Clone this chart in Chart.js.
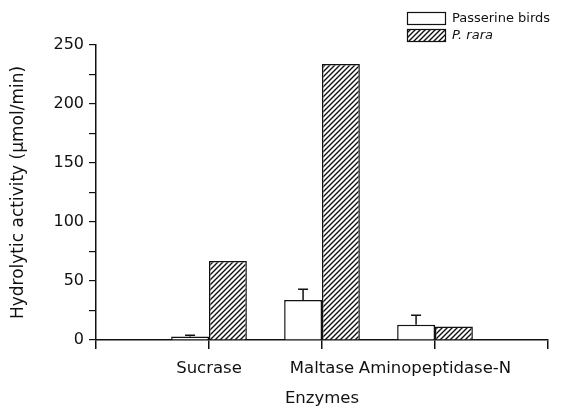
<!DOCTYPE html>
<html>
<head>
<meta charset="utf-8">
<script src="https://cdn.jsdelivr.net/npm/chart.js@4.4.1/dist/chart.umd.min.js"></script>
<style>
  html, body { margin: 0; padding: 0; background: #fff; }
  #wrap { width: 562px; height: 410px; position: relative; }
</style>
</head>
<body>
<div id="wrap"><canvas id="chart" width="562" height="410"></canvas></div>
<script>
// categories (empty slots at both ends keep the axis span of the original)
const enzymes = ['', 'Sucrase', 'Maltase', 'Aminopeptidase-N', ''];
const passerine = [null, 3, 34, 13, null];
const passerineErr = [null, 1, 9, 8, null];
const pRara = [null, 67, 234, 11.5, null];
const yTicks = [0, 50, 100, 150, 200, 250];

const font = 'DejaVu Sans, Liberation Sans, Arial, sans-serif';

// diagonal hatch for P. rara
function hatch() {
  const c = document.createElement('canvas');
  c.width = 5; c.height = 5;
  const g = c.getContext('2d');
  g.fillStyle = '#fff';
  g.fillRect(0, 0, 5, 5);
  g.strokeStyle = '#111';
  g.lineWidth = 1.4;
  g.beginPath();
  g.moveTo(-1, 6); g.lineTo(6, -1);
  g.moveTo(-1, 1); g.lineTo(1, -1);
  g.moveTo(4, 6); g.lineTo(6, 4);
  g.stroke();
  return g.createPattern(c, 'repeat');
}
const hatchFill = hatch();

// error bars on passerine birds
const errorBars = {
  id: 'errorBars',
  afterDatasetsDraw(chart) {
    const ctx = chart.ctx;
    const meta = chart.getDatasetMeta(0);
    const y = chart.scales.y;
    ctx.save();
    ctx.strokeStyle = '#111';
    ctx.lineWidth = 1.5;
    meta.data.forEach((bar, i) => {
      if (passerine[i] == null || !passerineErr[i]) return;
      const top = y.getPixelForValue(passerine[i] + passerineErr[i]);
      ctx.beginPath();
      ctx.moveTo(bar.x, bar.y);
      ctx.lineTo(bar.x, top);
      ctx.moveTo(bar.x - 5, top);
      ctx.lineTo(bar.x + 5, top);
      ctx.stroke();
    });
    ctx.restore();
  }
};

// legend in the top right corner
const boxLegend = {
  id: 'boxLegend',
  afterDraw(chart) {
    const ctx = chart.ctx;
    const items = chart.data.datasets;
    ctx.save();
    items.forEach((ds, i) => {
      const x = 407, y = 12 + i * 17;
      ctx.fillStyle = ds.backgroundColor;
      ctx.fillRect(x, y, 38, 12);
      ctx.strokeStyle = '#111';
      ctx.lineWidth = 1.2;
      ctx.strokeRect(x + 0.5, y + 0.5, 38, 12);
      ctx.fillStyle = '#111';
      ctx.font = (i === 1 ? 'italic ' : '') + '13px ' + font;
      ctx.textBaseline = 'middle';
      ctx.fillText(ds.label, x + 45, y + 7);
    });
    ctx.restore();
  }
};

new Chart(document.getElementById('chart'), {
  type: 'bar',
  data: {
    labels: enzymes,
    datasets: [
      {
        label: 'Passerine birds',
        data: passerine,
        backgroundColor: '#fff',
        borderColor: '#111',
        borderWidth: 1.5,
        categoryPercentage: 0.67,
        barPercentage: 1.0
      },
      {
        label: 'P. rara',
        data: pRara,
        backgroundColor: hatchFill,
        borderColor: '#111',
        borderWidth: 1.5,
        categoryPercentage: 0.67,
        barPercentage: 1.0
      }
    ]
  },
  options: {
    responsive: false,
    animation: false,
    devicePixelRatio: 1,
    layout: { padding: { top: 45, right: 14, left: 0, bottom: 0 } },
    plugins: {
      legend: { display: false },
      tooltip: { enabled: false }
    },
    scales: {
      x: {
        offset: false,
        grid: {
          offset: false,
          drawOnChartArea: false,
          tickLength: 9,
          color: '#111',
          lineWidth: 1.5
        },
        border: { color: '#111', width: 1.5 },
        ticks: {
          color: '#111',
          font: { family: font, size: 16.5 },
          padding: 10,
          maxRotation: 0,
          autoSkip: false
        },
        title: {
          display: true,
          text: 'Enzymes',
          color: '#111',
          font: { family: font, size: 16.5 },
          padding: { top: 7, bottom: 1 }
        },
        afterFit(s) { s.height = 70; }
      },
      y: {
        min: 0,
        max: 250,
        afterBuildTicks(s) {
          const t = [];
          for (let v = 0; v <= 250; v += 25) t.push({ value: v });
          s.ticks = t;
        },
        grid: {
          drawOnChartArea: false,
          tickLength: 7,
          color: '#111',
          lineWidth: 1.2
        },
        border: { color: '#111', width: 1.5 },
        ticks: {
          color: '#111',
          font: { family: font, size: 16 },
          padding: 5,
          callback: (v) => yTicks.includes(v) ? v : ''
        },
        title: {
          display: true,
          text: 'Hydrolytic activity (µmol/min)',
          color: '#111',
          font: { family: font, size: 17 },
          padding: { bottom: 4, top: 8 }
        },
        afterFit(s) { s.width = 96; }
      }
    }
  },
  plugins: [errorBars, boxLegend]
});
</script>
</body>
</html>
